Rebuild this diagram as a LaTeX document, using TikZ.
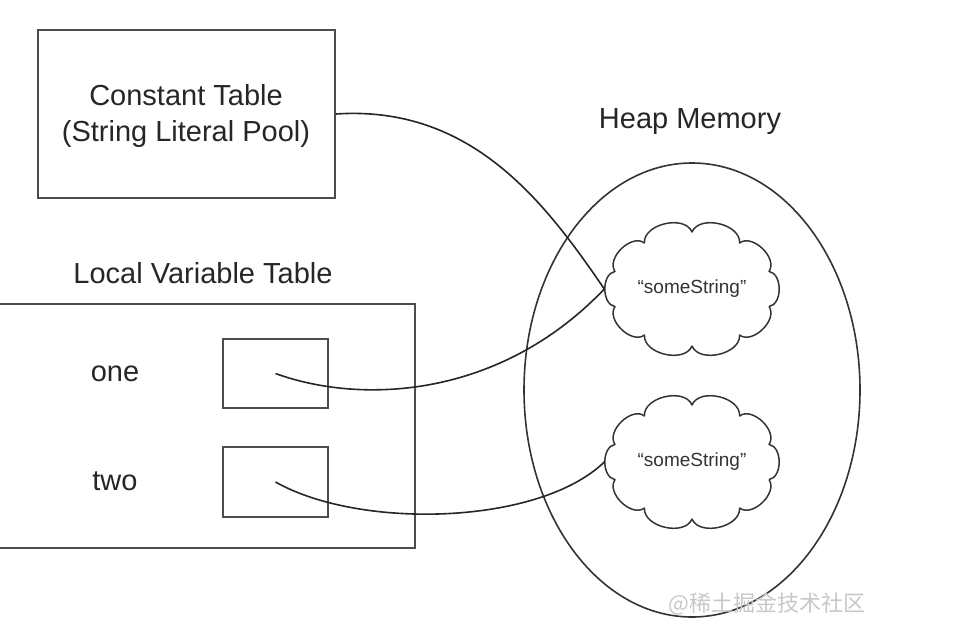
\documentclass[tikz,border=0pt]{standalone}
\usepackage{fontspec}
\setmainfont{Liberation Sans}
\newfontfamily\cjk{Noto Sans CJK SC}
\usetikzlibrary{shapes.geometric}
\definecolor{edge}{gray}{0.3}
\tikzset{
  box/.style={draw=edge, line width=1.8pt, inner sep=0pt},
  lbl/.style={font=\fontsize{29}{34}\selectfont, text=black!85, align=center},
  cloudtext/.style={ellipse, minimum width=175pt, minimum height=134pt, inner sep=0pt,
    font=\fontsize{19}{22}\selectfont, text=black!80},
  cloudline/.style={draw=black!80, line width=1.5pt, line join=round},
  link/.style={draw=black!85, line width=1.6pt}
}
\newcommand\drawpuffs[1]{%
  \draw[cloudline] ([shift={(18:81 and 57)}]#1.center)
    \foreach \i in {1,...,10}{ to[bend left=80] ([shift={(18+36*\i:81 and 57)}]#1.center) };
}
\begin{document}
\begin{tikzpicture}[x=1pt,y=-1pt]
\useasboundingbox (0,0) rectangle (957,642);
% constant table
\node[box, minimum width=297pt, minimum height=168pt] (ct) at (186.5,114) {};
\node[lbl] (cttext) at (186,116) {Constant Table\\[2pt](String Literal Pool)};
% heap
\node[lbl] (heaplbl) at (690,122) {Heap Memory};
\node[ellipse, draw=black!80, line width=1.6pt, minimum width=336pt, minimum height=454pt, inner sep=0pt] (heap) at (692,390) {};
% local variable table
\node[lbl] (lvtlbl) at (203,273) {Local Variable Table};
\node[box, minimum width=416pt, minimum height=244pt] (lvt) at (207,426) {};
\node[lbl] (one) at (115,374) {one};
\node[lbl] (two) at (115,481) {two};
\node[box, minimum width=105pt, minimum height=69pt] (b1) at (275.5,373.5) {};
\node[box, minimum width=105pt, minimum height=70pt] (b2) at (275.5,482) {};
% clouds
\node[cloudtext] (c1) at (692,289) {“someString”};
\node[cloudtext] (c2) at (692,462) {“someString”};
\drawpuffs{c1}
\drawpuffs{c2}
% links
\draw[link] (ct.east) .. controls +(135,-9) and +(-60,-88) .. (c1.west);
\draw[link] (b1.center) .. controls +(85,31) and +(-105,110) .. (c1.west);
\draw[link] (b2.center) .. controls +(85,48) and +(-65,63) .. (c2.west);
% watermark
\node[text=black!22, font=\cjk\fontsize{22}{24}\selectfont] (wm) at (767,604) {@稀土掘金技术社区};
\end{tikzpicture}
\end{document}
